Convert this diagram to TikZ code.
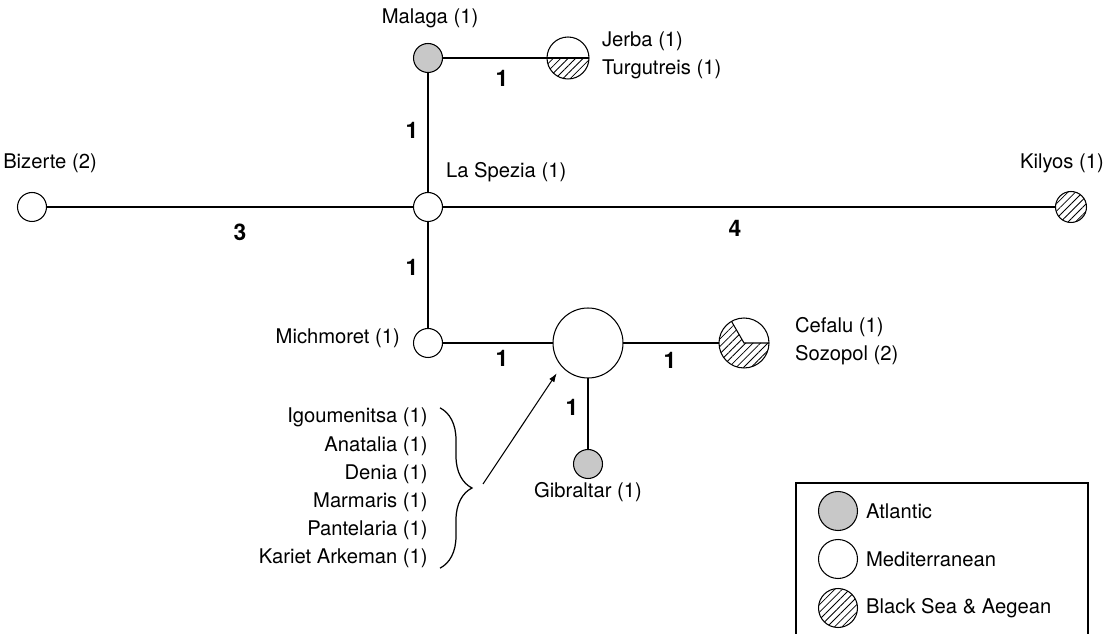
\documentclass[tikz,border=0pt]{standalone}
\usepackage{fontspec}
\setmainfont{TeX Gyre Heros}
\usetikzlibrary{arrows.meta,positioning,calc,patterns.meta,decorations.pathreplacing}
\definecolor{atlgray}{RGB}{200,200,200}

\tikzset{
  hap/.style={circle, draw, line width=0.6pt, fill=white, inner sep=0pt, outer sep=0pt, minimum size=0.58cm},
  atl/.style={hap, fill=atlgray},
  bsa/.style={hap, pattern={Lines[angle=45,distance=3pt,line width=0.45pt]}},
  hatch/.style={pattern={Lines[angle=45,distance=3pt,line width=0.45pt]}},
  edge/.style={line width=1.45pt},
  elab/.style={font=\fontsize{13}{15}\selectfont\bfseries, inner sep=1pt},
  site/.style={inner sep=1pt, align=left},
}

\begin{document}
\begin{tikzpicture}[x=0.02cm, y=-0.02cm, font=\fontsize{11.5}{16}\selectfont]
  \useasboundingbox (0,0) rectangle (1105,634);

  % haplotypes
  \node[hap] (biz) at (32,207) {};
  \node[hap] (spz) at (428,207) {};
  \node[atl] (mal) at (428,58) {};
  \node[hap, minimum size=0.84cm] (jer) at (568,58) {};
  \node[bsa, minimum size=0.62cm] (kil) at (1071,207) {};
  \node[hap] (mic) at (428,343) {};
  \node[hap, minimum size=1.4cm] (hub) at (588,343) {};
  \node[hap, minimum size=1.0cm] (cef) at (744,343) {};
  \node[atl] (gib) at (588,464) {};

  % shared haplotypes: hatched parts
  \fill[hatch] (jer.west) arc[start angle=180, end angle=360, radius=0.42cm] -- cycle;
  \draw[line width=0.6pt] (jer.west) -- (jer.east);
  \fill[hatch] (cef.center) -- (cef.120) arc[start angle=120, end angle=360, radius=0.5cm] -- cycle;
  \draw[line width=0.6pt] (cef.120) -- (cef.center) -- (cef.east);

  % network
  \draw[edge] (biz) -- (spz);
  \draw[edge] (spz) -- (kil);
  \draw[edge] (spz) -- (mal);
  \draw[edge] (mal) -- (jer);
  \draw[edge] (spz) -- (mic);
  \draw[edge] (mic) -- (hub);
  \draw[edge] (hub) -- (cef);
  \draw[edge] (hub) -- (gib);

  % mutational steps
  \node[elab] (s1) at (240,232) {3};
  \node[elab] (s2) at (735,228) {4};
  \node[elab] (s3) at (502,78) {1};
  \node[elab] (s4) at (412,130) {1};
  \node[elab] (s5) at (412,267) {1};
  \node[elab] (s6) at (502,358) {1};
  \node[elab] (s7) at (670,360) {1};
  \node[elab] (s8) at (572,407) {1};

  % sites
  \node[site] (tbiz) at (50,163) {Bizerte (2)};
  \node[site, anchor=west] (tspz) at (444,172) {La Spezia (1)};
  \node[site] (tmal) at (430,18) {Malaga (1)};
  \node[site, anchor=west] (tjer) at (600,55) {Jerba (1)\\Turgutreis (1)};
  \node[site] (tkil) at (1062,163) {Kilyos (1)};
  \node[site, anchor=east] (tmic) at (402,338) {Michmoret (1)};
  \node[site, anchor=west] (tcef) at (793,341) {Cefalu (1)\\Sozopol (2)};
  \node[site] (tgib) at (588,492) {Gibraltar (1)};

  \node[site, align=right, anchor=east, inner sep=0pt] (others) at (428,488)
    {Igoumenitsa (1)\\Anatalia (1)\\Denia (1)\\Marmaris (1)\\Pantelaria (1)\\Kariet Arkeman (1)};
  \draw[line width=0.7pt, decorate, decoration={brace, amplitude=0.64cm}]
    ([xshift=0.24cm]others.north east) -- ([xshift=0.24cm]others.south east);
  \coordinate (tail) at (483,484);
  \draw[line width=0.6pt, -{Latex[length=5pt,width=3.5pt]}, shorten >=5pt] (tail) -- (hub.221);

  % legend
  \draw[line width=0.75pt] (796,640) -- (796,483) -- (1088,483) -- (1088,640);
  \node[atl, minimum size=0.78cm] (kat) at (838,511) {};
  \node[hap, minimum size=0.78cm] (kme) at (838,559) {};
  \node[bsa, minimum size=0.78cm] (kbs) at (838,608) {};
  \node[site, anchor=west] (lat) at (864,511) {Atlantic};
  \node[site, anchor=west] (lme) at (864,559) {Mediterranean};
  \node[site, anchor=west] (lbs) at (864,608) {Black Sea \& Aegean};
\end{tikzpicture}
\end{document}
